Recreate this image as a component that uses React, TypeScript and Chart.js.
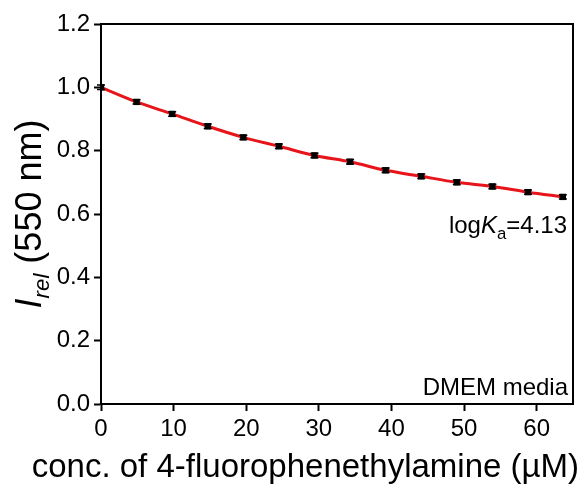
import React, { useEffect, useRef } from "react";
import { Chart, registerables } from "chart.js";

Chart.register(...registerables);

const concX = [0, 4.9, 9.8, 14.7, 19.6, 24.5, 29.4, 34.3, 39.2, 44.1, 49.0, 53.9, 58.8, 63.6];
const irel = [1.0, 0.954, 0.916, 0.877, 0.842, 0.814, 0.785, 0.765, 0.738, 0.719, 0.7, 0.687, 0.669, 0.654];
const irelErr = [0.007, 0.007, 0.007, 0.007, 0.007, 0.007, 0.007, 0.007, 0.007, 0.007, 0.007, 0.007, 0.007, 0.007];
const yTicks = [0, 0.2, 0.4, 0.6, 0.8, 1.0, 1.2];
const xTicks = [0, 10, 20, 30, 40, 50, 60];

const FONT = "Arial, 'Liberation Sans', sans-serif";

const overlay = {
  id: "overlay",
  afterDatasetsDraw(chart: any) {
    const { ctx, chartArea, scales } = chart;
    const xs = scales.x;
    const ys = scales.y;
    ctx.save();
    ctx.strokeStyle = "#000";
    ctx.lineWidth = 1.5;
    concX.forEach((x, i) => {
      const px = xs.getPixelForValue(x);
      const p1 = ys.getPixelForValue(irel[i] + irelErr[i]);
      const p2 = ys.getPixelForValue(irel[i] - irelErr[i]);
      ctx.beginPath();
      ctx.moveTo(px, p1);
      ctx.lineTo(px, p2);
      ctx.moveTo(px - 4, p1);
      ctx.lineTo(px + 4, p1);
      ctx.moveTo(px - 4, p2);
      ctx.lineTo(px + 4, p2);
      ctx.stroke();
    });
    ctx.lineWidth = 2;
    ctx.strokeStyle = "#000";
    ctx.beginPath();
    ctx.moveTo(chartArea.left, chartArea.top);
    ctx.lineTo(chartArea.right, chartArea.top);
    ctx.lineTo(chartArea.right, chartArea.bottom);
    ctx.stroke();
    ctx.restore();
  },
  afterDraw(chart: any) {
    const { ctx, chartArea } = chart;
    ctx.save();
    ctx.fillStyle = "#000";
    const fs = 24;
    ctx.textBaseline = "alphabetic";
    const rightX = chartArea.right - 6;
    const partA = "log";
    const partK = "K";
    const partSub = "a";
    const partB = "=4.13";
    ctx.font = `${fs}px ${FONT}`;
    const wA = ctx.measureText(partA).width;
    const wB = ctx.measureText(partB).width;
    ctx.font = `italic ${fs}px ${FONT}`;
    const wK = ctx.measureText(partK).width;
    ctx.font = `${fs * 0.7}px ${FONT}`;
    const wS = ctx.measureText(partSub).width;
    const total = wA + wK + wS + wB;
    let x0 = rightX - total;
    const by = 233;
    ctx.textAlign = "left";
    ctx.font = `${fs}px ${FONT}`;
    ctx.fillText(partA, x0, by);
    x0 += wA;
    ctx.font = `italic ${fs}px ${FONT}`;
    ctx.fillText(partK, x0, by);
    x0 += wK;
    ctx.font = `${fs * 0.7}px ${FONT}`;
    ctx.fillText(partSub, x0, by + 6);
    x0 += wS;
    ctx.font = `${fs}px ${FONT}`;
    ctx.fillText(partB, x0, by);
    ctx.textAlign = "right";
    ctx.fillText("DMEM media", chartArea.right - 5, 395);

    ctx.font = `33px ${FONT}`;
    ctx.textAlign = "right";
    ctx.fillText("conc. of 4-fluorophenethylamine (\u00B5M)", 579, 477);

    const yfs = 36;
    ctx.translate(41, (chartArea.top + chartArea.bottom) / 2);
    ctx.rotate(-Math.PI / 2);
    ctx.font = `italic ${yfs}px ${FONT}`;
    const wI = ctx.measureText("I").width;
    ctx.font = `italic ${yfs * 0.62}px ${FONT}`;
    const wRel = ctx.measureText("rel").width;
    ctx.font = `${yfs}px ${FONT}`;
    const wRest = ctx.measureText(" (550 nm)").width;
    const tot = wI + wRel + wRest;
    let tx = -tot / 2;
    ctx.textAlign = "left";
    ctx.font = `italic ${yfs}px ${FONT}`;
    ctx.fillText("I", tx, 0);
    tx += wI;
    ctx.font = `italic ${yfs * 0.62}px ${FONT}`;
    ctx.fillText("rel", tx, 8);
    tx += wRel;
    ctx.font = `${yfs}px ${FONT}`;
    ctx.fillText(" (550 nm)", tx, 0);
    ctx.restore();
  },
};

export default function App() {
  const ref = useRef<HTMLCanvasElement | null>(null);
  useEffect(() => {
    if (!ref.current) return;
    const pts = concX.map((x, i) => ({ x, y: irel[i] }));
    const chart = new Chart(ref.current, {
      type: "scatter",
      data: {
        datasets: [
          {
            type: "line",
            data: pts,
            borderColor: "#e8141b",
            borderWidth: 3,
            pointRadius: 0,
            cubicInterpolationMode: "monotone",
            fill: false,
            order: 2,
          } as any,
          {
            data: pts,
            backgroundColor: "#000",
            borderColor: "#000",
            pointStyle: "rect",
            pointRadius: 4.5,
            borderWidth: 0,
            order: 1,
          },
        ],
      },
      plugins: [overlay],
      options: {
        animation: false,
        responsive: false,
        maintainAspectRatio: false,
        layout: { padding: { top: 24, right: 9, left: 0, bottom: 0 } },
        plugins: { legend: { display: false }, tooltip: { enabled: false } },
        scales: {
          x: {
            type: "linear",
            min: 0,
            max: 65,
            afterFit: (s: any) => {
              s.height = 83;
            },
            afterBuildTicks: (s: any) => {
              s.ticks = xTicks.map((v) => ({ value: v }));
            },
            ticks: {
              color: "#000",
              font: { family: FONT, size: 24 },
              padding: 4,
              maxRotation: 0,
            },
            grid: { display: true, drawOnChartArea: false, drawTicks: true, tickLength: 7, tickColor: "#000", tickWidth: 2 },
            border: { display: true, color: "#000", width: 2 },
          },
          y: {
            type: "linear",
            min: 0,
            max: 1.2,
            afterFit: (s: any) => {
              s.width = 101;
            },
            afterBuildTicks: (s: any) => {
              s.ticks = yTicks.map((v) => ({ value: v }));
            },
            ticks: {
              color: "#000",
              font: { family: FONT, size: 24 },
              padding: 4,
              callback: (v: any) => Number(v).toFixed(1),
            },
            grid: { display: true, drawOnChartArea: false, drawTicks: true, tickLength: 7, tickColor: "#000", tickWidth: 2 },
            border: { display: true, color: "#000", width: 2 },
          },
        },
      },
    });
    return () => chart.destroy();
  }, []);
  return (
    <div style={{ position: "fixed", left: 0, top: 0, width: 582, height: 487, background: "#fff" }}>
      <canvas ref={ref} width={582} height={487} style={{ width: 582, height: 487 }} />
    </div>
  );
}
